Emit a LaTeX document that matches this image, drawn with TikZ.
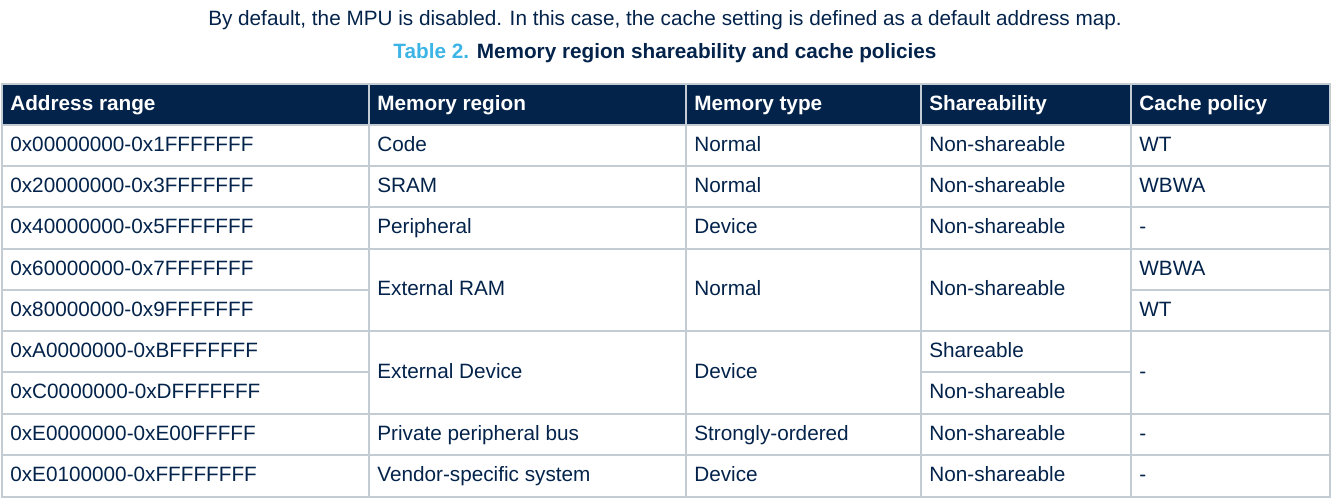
\documentclass[tikz,border=0pt]{standalone}
\usepackage{fontspec}
\setmainfont{Liberation Sans}
\usetikzlibrary{positioning}
\definecolor{stnavy}{HTML}{03234B}
\definecolor{stblue}{HTML}{3CB4E6}
\definecolor{stgrid}{HTML}{C3CBD3}
\tikzset{
  cell/.style={draw=stgrid, line width=1pt, fill=white},
  head/.style={draw=stgrid, line width=1pt, fill=stnavy},
  txt/.style={anchor=west, text=stnavy, font=\fontsize{11.8pt}{14pt}\selectfont, text height=9pt, text depth=2.5pt, inner sep=0pt},
  htxt/.style={txt, text=white, font=\fontsize{11.8pt}{14pt}\selectfont\bfseries}
}
% cell: x1, y1, x2, y2, name, text (pixel coordinates)
\newcommand{\tcell}[6]{%
  \draw[cell] (#1,#2) rectangle (#3,#4);
  \node[txt] (#5) at ({#1+8},{(#2+#4)/2}) {#6};}
\begin{document}
\begin{tikzpicture}[x=0.02cm, y=-0.02cm]
    \useasboundingbox (0,0) rectangle (1335,501);

    % Caption
    \node[text=stnavy, font=\fontsize{11.8pt}{14pt}\selectfont] (intro) at (665,20) {By default, the MPU is disabled. In this case, the cache setting is defined as a default address map.};
    \node[text=stnavy, font=\fontsize{11.8pt}{14pt}\selectfont\bfseries] (caption) at (665,53) {\textcolor{stblue}{Table 2.} Memory region shareability and cache policies};

    % Header row
    \foreach \xa/\xb/\t [count=\i] in {2/369/Address range, 369/686/Memory region, 686/921/Memory type, 921/1131/Shareability, 1131/1330/Cache policy} {
        \draw[head] (\xa,84) rectangle (\xb,125);
        \node[htxt] (h\i) at (\xa+8,104.5) {\t};
    }

    % Address ranges
    \foreach \ya/\yb/\t [count=\i] in {125/166/0x00000000-0x1FFFFFFF, 166/207/0x20000000-0x3FFFFFFF, 207/249/0x40000000-0x5FFFFFFF, 249/290/0x60000000-0x7FFFFFFF, 290/331/0x80000000-0x9FFFFFFF, 331/372/0xA0000000-0xBFFFFFFF, 372/414/0xC0000000-0xDFFFFFFF, 414/455/0xE0000000-0xE00FFFFF, 455/497/0xE0100000-0xFFFFFFFF} {
        \tcell{2}{\ya}{369}{\yb}{a\i}{\t}
    }

    % Single rows
    \foreach \ya/\yb/\r/\m/\s/\c [count=\i] in {125/166/Code/Normal/Non-shareable/WT, 166/207/SRAM/Normal/Non-shareable/WBWA, 207/249/Peripheral/Device/Non-shareable/-, 414/455/Private peripheral bus/Strongly-ordered/Non-shareable/-, 455/497/Vendor-specific system/Device/Non-shareable/-} {
        \tcell{369}{\ya}{686}{\yb}{r\i}{\r}
        \tcell{686}{\ya}{921}{\yb}{m\i}{\m}
        \tcell{921}{\ya}{1131}{\yb}{s\i}{\s}
        \tcell{1131}{\ya}{1330}{\yb}{c\i}{\c}
    }

    % External RAM
    \tcell{369}{249}{686}{331}{rram}{External RAM}
    \tcell{686}{249}{921}{331}{mram}{Normal}
    \tcell{921}{249}{1131}{331}{sram}{Non-shareable}
    \tcell{1131}{249}{1330}{290}{cram1}{WBWA}
    \tcell{1131}{290}{1330}{331}{cram2}{WT}

    % External Device
    \tcell{369}{331}{686}{414}{rdev}{External Device}
    \tcell{686}{331}{921}{414}{mdev}{Device}
    \tcell{921}{331}{1131}{372}{sdev1}{Shareable}
    \tcell{921}{372}{1131}{414}{sdev2}{Non-shareable}
    \tcell{1131}{331}{1330}{414}{cdev}{-}
\end{tikzpicture}
\end{document}
